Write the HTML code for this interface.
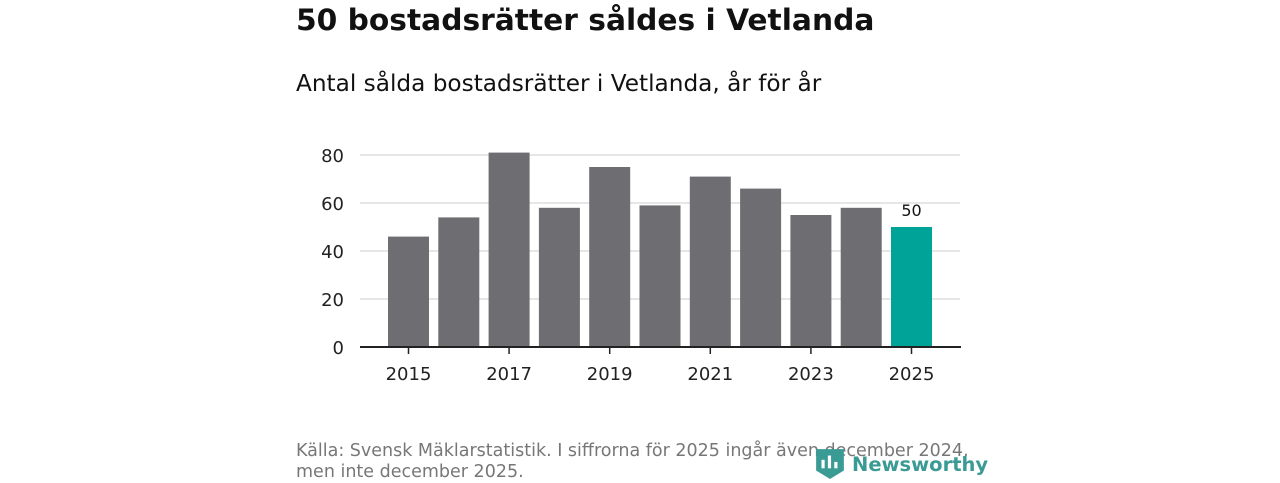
<!DOCTYPE html>
<html><head><meta charset="utf-8"><style>
body{margin:0;width:1280px;height:480px;background:#fff;font-family:"DejaVu Sans","Liberation Sans",sans-serif;position:relative;overflow:hidden}
#title{position:absolute;left:296px;top:3px;font-size:29.7px;font-weight:bold;color:#111;margin:0}
#sub{position:absolute;left:296px;top:70px;font-size:23.2px;color:#111}
#src{position:absolute;left:296px;top:441px;font-size:17.5px;color:#777;line-height:21px;white-space:nowrap}
#logo{position:absolute;left:816px;top:447px;font-size:19.5px;font-weight:bold;color:#3a9a94;white-space:nowrap}
</style></head><body>
<h1 id="title">50 bostadsrätter såldes i Vetlanda</h1>
<div id="sub">Antal sålda bostadsrätter i Vetlanda, år för år</div>
<svg id="chart" width="1280" height="480" style="position:absolute;left:0;top:0"></svg>
<div id="src">Källa: Svensk Mäklarstatistik. I siffrorna för 2025 ingår även december 2024,<br>men inte december 2025.</div>
<div id="logo"><svg width="28" height="32" viewBox="0 0 26 30" style="vertical-align:-8px;margin-right:8px"><path d="M0 2h26v20l-13 8-13-8z" fill="#3a9a94"/><rect x="5" y="12" width="3" height="8" fill="#fff"/><rect x="11" y="8" width="3" height="12" fill="#fff"/><rect x="17" y="14" width="3" height="6" fill="#fff"/></svg>Newsworthy</div>
<script>
const years=[2015,2016,2017,2018,2019,2020,2021,2022,2023,2024,2025];
const values=[46,54,81,58,75,59,71,66,55,58,50];
const yTicks=[0,20,40,60,80];
const xTickYears=[2015,2017,2019,2021,2023,2025];
const NS="http://www.w3.org/2000/svg";
const svg=document.getElementById('chart');
const y=v=>347-v*2.4;
const x=i=>408.5+i*50.3;
function mk(t,a){const e=document.createElementNS(NS,t);for(const k in a)e.setAttribute(k,a[k]);svg.appendChild(e);return e;}
yTicks.forEach(t=>{
  if(t>0){const g=mk('line',{x1:360,x2:960,y1:y(t),y2:y(t),stroke:'#ddd','stroke-width':1.5});
  
  }
  const l=mk('text',{x:344,y:y(t)+7,'text-anchor':'end','font-size':18,fill:'#222'});l.textContent=t;
  
  
});
years.forEach((yr,i)=>{
  const last=i===years.length-1;
  const b=mk('rect',{x:x(i)-20.5,y:y(values[i]),width:41,height:values[i]*2.4,fill:last?'#00a398':'#6e6d72'});
  
  
  if(xTickYears.includes(yr)){
    mk('line',{x1:x(i),x2:x(i),y1:347,y2:354,stroke:'#222','stroke-width':1.5});
    const l=mk('text',{x:x(i),y:380,'text-anchor':'middle','font-size':18,fill:'#222'});l.textContent=yr;
    
    
  }
  if(last){const l=mk('text',{x:x(i),y:y(values[i])-11,'text-anchor':'middle','font-size':16,fill:'#111'});l.textContent=values[i];
  
  }
});
const ax=mk('line',{x1:360,x2:961,y1:347,y2:347,stroke:'#222','stroke-width':2});


</script>
</body></html>
